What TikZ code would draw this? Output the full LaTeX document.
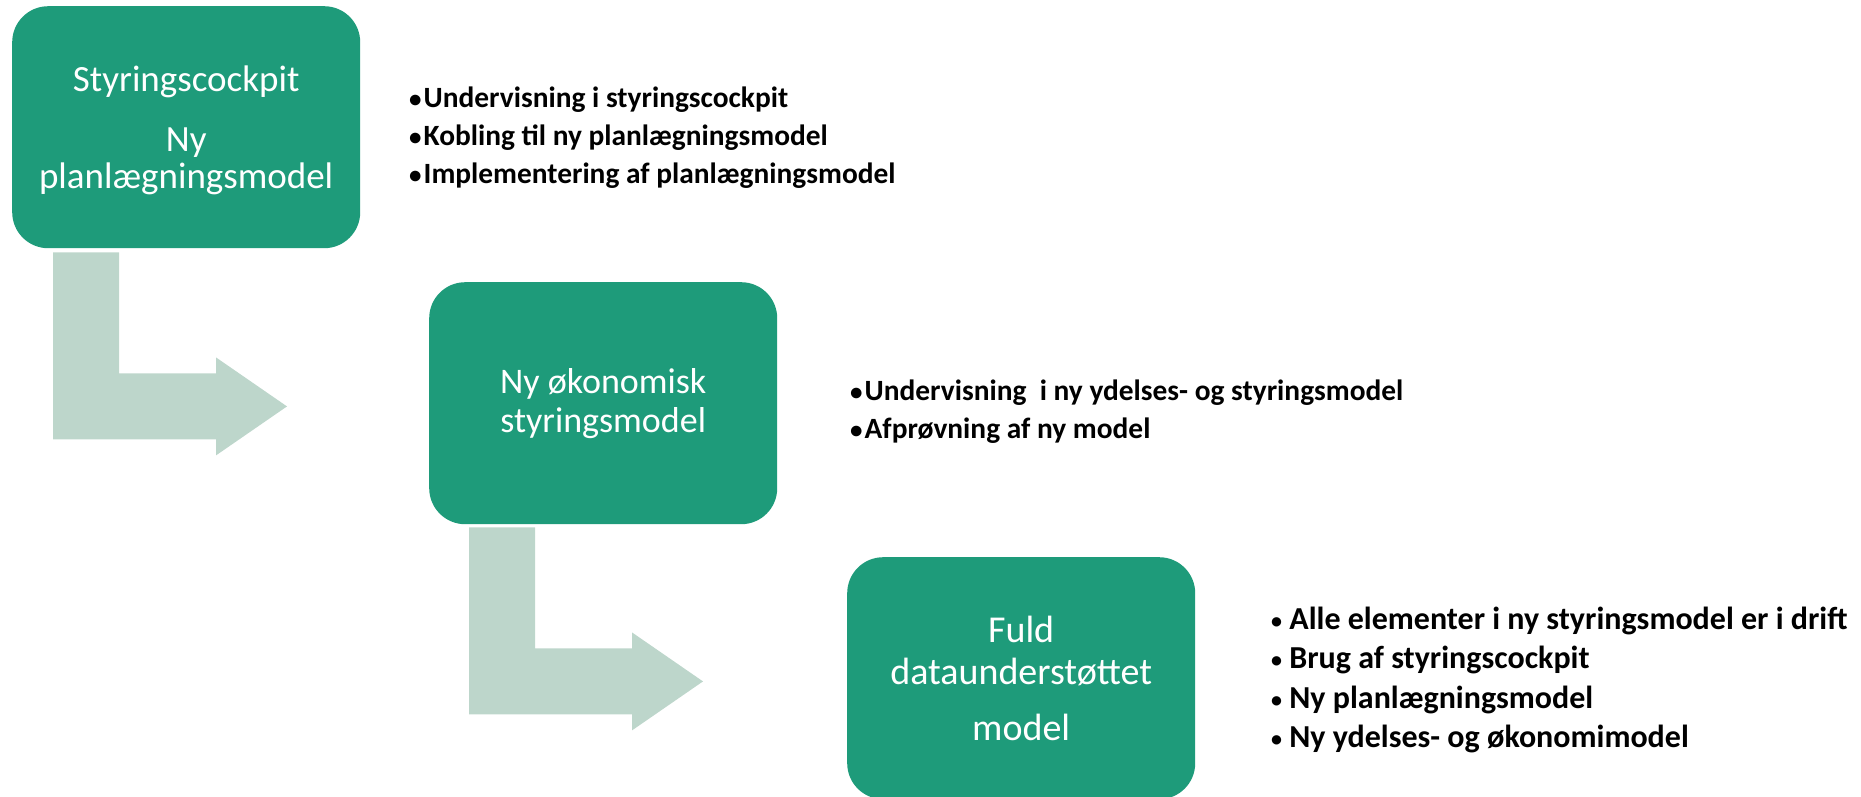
\documentclass[tikz,border=0pt]{standalone}
\usepackage{fontspec}
\setmainfont{Carlito}
\usetikzlibrary{calc}
\definecolor{boxgreen}{RGB}{30,155,122}
\definecolor{arrowgreen}{RGB}{189,214,203}
\newcommand\bentarrow[1]{%
  \fill[bentshape] (#1) -- ++(66,0) -- ++(0,121) -- ++(97,0) -- ++(0,-16) -- ++(71,49)
    -- ++(-71,49) -- ++(0,-16) -- ++(-163,0) -- cycle;}
\newcommand\bul{{\fontsize{25}{25}\selectfont\raisebox{0.5pt}{•}}\kern2pt}
\newcommand\bulb{{\fontsize{22}{22}\selectfont\raisebox{1pt}{•}}}
\begin{document}
\begin{tikzpicture}[x=1pt,y=-1pt,
  stage/.style={fill=boxgreen, rounded corners=36pt, minimum width=348pt, minimum height=242pt,
    inner sep=0pt, text=white, align=center, anchor=north west},
  bentshape/.style={fill=arrowgreen},
  list/.style={anchor=north west, align=left, inner sep=0pt, font=\bfseries\fontsize{29.4}{38}\selectfont}]
\useasboundingbox (0,0) rectangle (1861,796);
\begin{scope}
\clip (0,0) rectangle (1861,796);
\node[stage, font=\fontsize{37}{37.6}\selectfont] (b1) at (12,6) {\rule{0pt}{32pt}Styringscockpit\\[22pt]Ny\\planlægningsmodel};
\node[stage, font=\fontsize{36}{39}\selectfont] (b2) at (429,282) {Ny økonomisk\\styringsmodel};
\node[stage, font=\fontsize{38}{42}\selectfont] (b3) at (847,557) {Fuld\\dataunderstøttet\\[14pt]model};
\coordinate (a1) at ($(b1.south west)+(41,4)$);
\coordinate (a2) at ($(b2.south west)+(40,3)$);
\bentarrow{a1}
\bentarrow{a2}
\node[list] (l1) at (409,87) {\bul Undervisning i styringscockpit\\\bul Kobling til ny planlægningsmodel\\\bul Implementering af planlægningsmodel};
\node[list] (l2) at (850,380) {\bul Undervisning\ \ i ny ydelses- og styringsmodel\\\bul Afprøvning af ny model};
\node[list, font=\bfseries\fontsize{32}{39.3}\selectfont] (l3) at (1271,607) {\bulb\ Alle elementer i ny styringsmodel er i drift\\\bulb\ Brug af styringscockpit\\\bulb\ Ny planlægningsmodel\\\bulb\ Ny ydelses- og økonomimodel};
\end{scope}
\end{tikzpicture}
\end{document}
